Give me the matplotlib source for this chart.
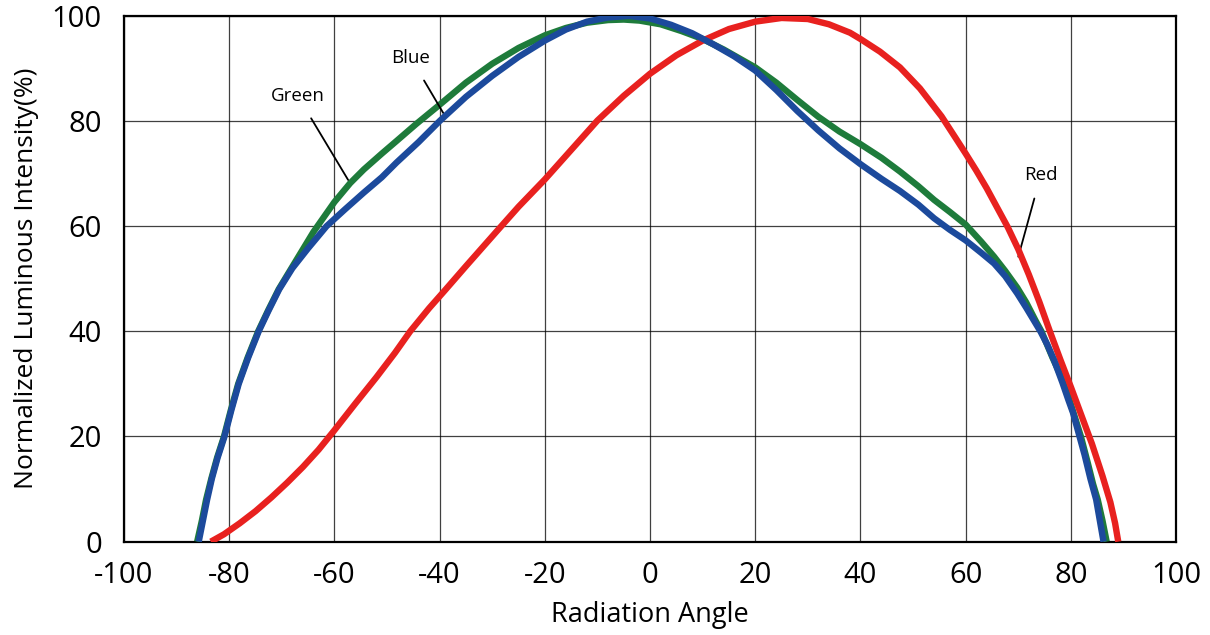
import matplotlib
matplotlib.use('Agg')
import matplotlib.pyplot as plt

# Relative luminous intensity vs. radiation angle for the R/G/B dies
blue_angle = [-85.8, -85.0, -84.2, -83.3, -82.2, -80.9, -79.6, -78.2, -76.4, -74.4,
              -72.5, -70.5, -68.0, -65.0, -61.5, -58, -54.4, -51, -48.2, -44,
              -40, -35, -30, -25, -20, -16, -12, -8, -4, 0,
              4, 8, 12, 16, 20, 24, 28, 32, 36, 40,
              44, 47.5, 51, 54, 57, 60, 63, 65.4, 67.5, 69.8,
              71.5, 73, 74.2, 75.5, 76.8, 78.4, 79.5, 80.4, 81.5, 82.6,
              83.7, 84.8, 85.5, 86.2]
blue_value = [0, 4, 8, 12, 16, 20, 25, 30, 35, 40,
              44, 48, 52, 55.8, 60, 63.2, 66.4, 69.3, 72.1, 76,
              80, 84.6, 88.6, 92.2, 95.3, 97.4, 98.9, 99.7, 100, 99.5,
              98.3, 96.7, 94.6, 92.3, 89.6, 85.9, 81.9, 78.2, 74.8, 71.8,
              69.0, 66.7, 64.1, 61.5, 59.3, 57.3, 54.9, 52.9, 50.5, 47.2,
              44.5, 42, 40, 37.5, 34.5, 30.2, 27, 24.5, 20.5, 16.5,
              12, 8, 4, 0]

green_angle = [-86.1, -85.2, -84.4, -83.4, -82.3, -81.0, -79.7, -78.3, -76.5, -74.5,
               -72.6, -70.6, -68.0, -66, -64, -60, -57, -54.4, -51, -48.2,
               -44.5, -40, -35, -30, -25, -20, -16, -12, -8, -5,
               -2, 2, 6, 10, 14, 20, 24, 28, 32, 36,
               40, 44, 47.5, 51, 54, 57, 60, 63, 65.4, 67.5,
               69.8, 71.5, 73.3, 74.4, 76.5, 78.7, 80, 81.9, 83.2, 84.2,
               85.1, 86, 86.8]
green_value = [0, 4, 8, 12, 16, 20, 25, 30, 35, 40,
               44, 48, 52.3, 55.6, 58.9, 64.6, 68.2, 70.8, 73.8, 76.2,
               79.4, 83.1, 87.3, 90.9, 93.9, 96.3, 97.7, 98.7, 99.2, 99.3,
               99.1, 98.4, 97.1, 95.6, 93.6, 90.2, 87.3, 84, 80.8, 78,
               75.6, 73, 70.4, 67.6, 65, 62.7, 60.3, 57, 54.2, 51.5,
               48.3, 45.5, 42, 40, 35, 30.2, 26.1, 20, 15, 11,
               8, 4, 0]

red_angle = [-83.5, -81, -78, -75, -72, -69, -66, -63, -60, -56,
             -52, -48.5, -45.6, -42, -39, -35, -32, -29, -25, -20,
             -15, -10, -5, 0, 5, 10, 15, 20, 25, 30,
             34, 38, 40, 43.7, 47.5, 51.3, 55.4, 58, 60, 62,
             64, 66, 68, 70, 72, 74, 76, 78, 80, 82,
             84, 86, 87.5, 88.4, 89]
red_value = [0, 1.4, 3.5, 5.8, 8.4, 11.2, 14.2, 17.5, 21.2, 26.3,
             31.3, 35.9, 40, 44.4, 47.8, 52.4, 55.8, 59.2, 63.7, 68.9,
             74.5, 80.1, 84.8, 89, 92.5, 95.3, 97.5, 98.9, 99.6, 99.4,
             98.4, 96.8, 95.6, 93.2, 90.2, 86.2, 80.9, 76.9, 73.8, 70.6,
             67.2, 63.5, 59.8, 55.6, 50.8, 45.6, 40, 34.6, 29.4, 24,
             18.6, 12.5, 7.5, 3.5, 0]

red_color = '#e8211f'
green_color = '#1e7b3b'
blue_color = '#1c4a9c'

plt.rcParams['font.family'] = ['Open Sans', 'DejaVu Sans']
plt.rcParams['axes.unicode_minus'] = False

fig = plt.figure(figsize=(12.1, 6.35), dpi=100)
ax = fig.add_axes([0.1025, 0.147, 0.8695, 0.828])

# green under red, blue on top
ax.plot(green_angle, green_value, color=green_color, lw=4.6, zorder=3,
        solid_capstyle='butt', solid_joinstyle='round')
ax.plot(red_angle, red_value, color=red_color, lw=4.6, zorder=4,
        solid_capstyle='butt', solid_joinstyle='round')
ax.plot(blue_angle, blue_value, color=blue_color, lw=4.6, zorder=5,
        solid_capstyle='butt', solid_joinstyle='round')

ax.set_xlim(-100, 100)
ax.set_ylim(0, 100)
ax.set_xticks(range(-100, 101, 20))
ax.set_yticks(range(0, 101, 20))
ax.grid(True, color='black', lw=0.9, alpha=0.75)
ax.set_axisbelow(True)
for sp in ax.spines.values():
    sp.set_linewidth(1.6)
    sp.set_color('black')
ax.tick_params(length=0, labelsize=21, pad=14)
ax.tick_params(axis='y', pad=16)

ax.set_xlabel('Radiation Angle', fontsize=19.5, labelpad=8)
ax.set_ylabel('Normalized Luminous Intensity(%)', fontsize=19, labelpad=9)

# curve labels with leader lines
ax.annotate('Green', xy=(-57.4, 68.8), xytext=(-67.0, 84.8),
            fontsize=13.5, ha='center', va='center',
            arrowprops=dict(arrowstyle='-', color='black', lw=1.3,
                            shrinkA=9, shrinkB=0))
ax.annotate('Blue', xy=(-39.3, 81.5), xytext=(-45.5, 92.0),
            fontsize=13.5, ha='center', va='center',
            arrowprops=dict(arrowstyle='-', color='black', lw=1.3,
                            shrinkA=9, shrinkB=0))
ax.annotate('Red', xy=(70.0, 54.2), xytext=(74.3, 69.8),
            fontsize=13.5, ha='center', va='center',
            arrowprops=dict(arrowstyle='-', color='black', lw=1.3,
                            shrinkA=9, shrinkB=0))

fig.savefig('out.png', dpi=100)
